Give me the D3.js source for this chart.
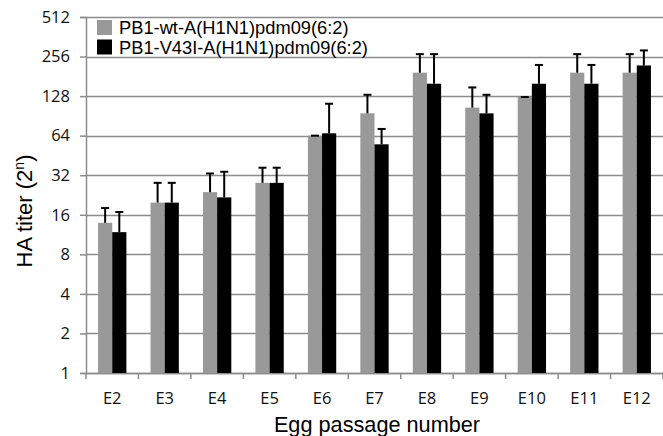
<!DOCTYPE html>
<meta charset="utf-8">
<script src="https://d3js.org/d3.v7.min.js"></script>
<style>
  body { margin: 0; background: #fff; }
  svg { display: block; }
</style>
<body>
<div id="canvas"></div>
<script>

  // data
  var passages = ["E2","E3","E4","E5","E6","E7","E8","E9","E10","E11","E12"];
  var seriesNames = ["PB1-wt-A(H1N1)pdm09(6:2)", "PB1-V43I-A(H1N1)pdm09(6:2)"];
  var wtMean  = [13.9, 19.8, 23.8, 28, 64, 94.6, 193, 104.6, 126, 193, 193];
  var wtTop   = [18, 28, 33, 36.5, 64, 131, 267, 149, 126, 267, 267];
  var mutMean = [11.8, 19.8, 21.7, 28, 66.7, 55, 159, 94.6, 159, 159, 219];
  var mutTop  = [16.8, 28, 34, 36.5, 112, 72, 267, 131, 221, 221, 285];
  var yTicks  = [1, 2, 4, 8, 16, 32, 64, 128, 256, 512];
  var colors  = ["#999999", "#000000"];

  var width = 663;
  var height = 436;
  var margin = {top: 17, right: 0, bottom: 63, left: 86};
  var w = width - margin.left - margin.right;
  var h = height - margin.top - margin.bottom;

  var svg = d3.select('#canvas')
    .append("svg")
    .attr("width", width)
    .attr("height", height);

  var g = svg.append("g")
    .attr("transform", "translate(" + margin.left + "," + margin.top + ")");

  // scales
  var x = d3.scaleBand()
    .domain(passages)
    .range([0, w]);

  var y = d3.scaleLog()
    .base(2)
    .domain([1, 512])
    .range([h, 0]);

  var barW = x.bandwidth() * 0.27;

  // gridlines
  g.append("g")
    .selectAll("line")
    .data(yTicks)
    .enter()
    .append("line")
    .attr("x1", 0)
    .attr("x2", w)
    .attr("y1", function(d){ return Math.round(y(d)) + 0.5; })
    .attr("y2", function(d){ return Math.round(y(d)) + 0.5; })
    .attr("stroke", "#8c8c8c")
    .attr("stroke-width", 1.5);

  // y axis
  var yAxis = d3.axisLeft(y)
    .tickValues(yTicks)
    .tickFormat(d3.format("d"))
    .tickSize(6)
    .tickPadding(10);
  var ya = g.append("g").call(yAxis);
  ya.select(".domain").attr("stroke", "#8c8c8c").attr("stroke-width", 1.5);
  ya.selectAll(".tick line").attr("stroke", "#8c8c8c").attr("stroke-width", 1.5);
  ya.selectAll("text")
    .style("font-family", "'Open Sans', sans-serif")
    .style("font-size", "16.5px")
    .attr("fill", "#111");

  // x axis
  var xAxis = d3.axisBottom(x)
    .tickSize(0)
    .tickPadding(19);
  var xa = g.append("g")
    .attr("transform", "translate(0," + h + ")")
    .call(xAxis);
  xa.select(".domain").attr("stroke", "#8c8c8c").attr("stroke-width", 1.5);
  xa.selectAll("text")
    .style("font-family", "'Open Sans', sans-serif")
    .style("font-size", "16.5px")
    .attr("fill", "#111");

  // category separator ticks below the axis
  g.append("g")
    .selectAll("line")
    .data(passages.concat(["end"]))
    .enter()
    .append("line")
    .attr("x1", function(d,i){ return i * x.step(); })
    .attr("x2", function(d,i){ return i * x.step(); })
    .attr("y1", h)
    .attr("y2", h + 6)
    .attr("stroke", "#8c8c8c")
    .attr("stroke-width", 1.5);

  // bars
  var series = [
    {mean: wtMean, top: wtTop, off: -barW},
    {mean: mutMean, top: mutTop, off: 0}
  ];

  series.forEach(function(s, si) {
    var sg = g.append("g");

    sg.selectAll("rect")
      .data(passages)
      .enter()
      .append("rect")
      .attr("x", function(d){ return x(d) + x.bandwidth()/2 + s.off; })
      .attr("width", barW)
      .attr("y", function(d,i){ return y(s.mean[i]); })
      .attr("height", function(d,i){ return h - y(s.mean[i]); })
      .attr("fill", colors[si]);

    // error bars (upper only)
    var eb = sg.selectAll("g.err")
      .data(passages)
      .enter()
      .append("g")
      .attr("class", "err");

    eb.append("line")
      .attr("x1", function(d){ return x(d) + x.bandwidth()/2 + s.off + barW/2; })
      .attr("x2", function(d){ return x(d) + x.bandwidth()/2 + s.off + barW/2; })
      .attr("y1", function(d,i){ return y(s.mean[i]); })
      .attr("y2", function(d,i){ return y(s.top[i]); })
      .attr("stroke", "#000")
      .attr("stroke-width", 2);

    eb.append("line")
      .attr("x1", function(d){ return x(d) + x.bandwidth()/2 + s.off + barW/2 - 4; })
      .attr("x2", function(d){ return x(d) + x.bandwidth()/2 + s.off + barW/2 + 4; })
      .attr("y1", function(d,i){ return y(s.top[i]); })
      .attr("y2", function(d,i){ return y(s.top[i]); })
      .attr("stroke", "#000")
      .attr("stroke-width", 2);
  });

  // legend
  var legend = svg.append("g")
    .attr("transform", "translate(97,20)");
  seriesNames.forEach(function(name, i) {
    legend.append("rect")
      .attr("x", 0)
      .attr("y", i * 19.5)
      .attr("width", 15)
      .attr("height", 15)
      .attr("fill", colors[i]);
    legend.append("text")
      .attr("x", 22)
      .attr("y", i * 19.5 + 14)
      .style("font-family", "'Liberation Sans', Arial, sans-serif")
      .style("font-size", "18.3px")
      .attr("fill", "#000")
      .text(name);
  });

  // axis titles
  svg.append("text")
    .attr("x", 377)
    .attr("y", 432)
    .attr("text-anchor", "middle")
    .style("font-family", "'Liberation Sans', Arial, sans-serif")
    .style("font-size", "21.7px")
    .text("Egg passage number");

  var yt = svg.append("text")
    .attr("transform", "translate(32,211) rotate(-90)")
    .attr("text-anchor", "middle")
    .style("font-family", "'Liberation Sans', Arial, sans-serif")
    .style("font-size", "22px");
  yt.append("tspan").text("HA titer (2");
  yt.append("tspan").attr("dy", -8).style("font-size", "14px").text("n");
  yt.append("tspan").attr("dy", 8).text(")");

</script>
</body>
